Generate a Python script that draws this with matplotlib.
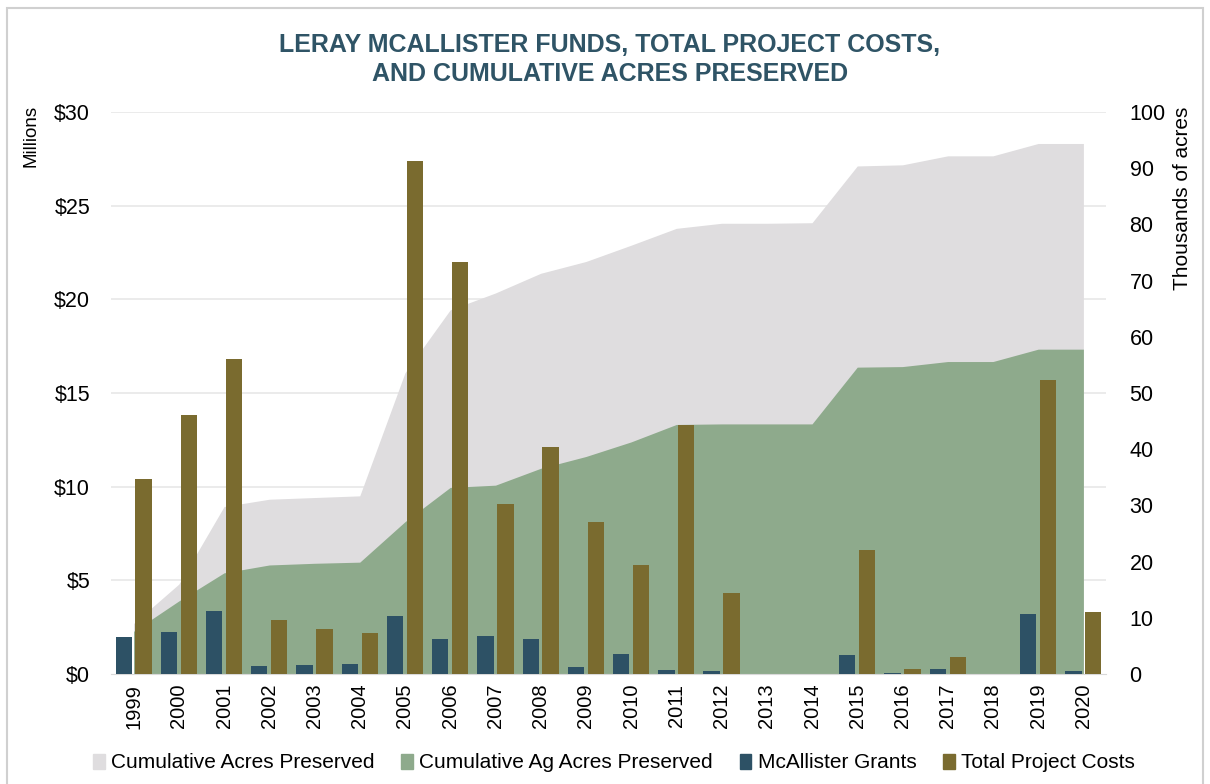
import numpy as np
import matplotlib.pyplot as plt
from matplotlib.patches import Patch, Rectangle

plt.rcParams['font.family'] = ['Liberation Sans', 'DejaVu Sans']

years = [str(y) for y in range(1999, 2021)]

# millions of dollars
grants = [1.99, 2.22, 3.36, 0.43, 0.46, 0.55, 3.11, 1.85, 2.05, 1.89, 0.36,
          1.05, 0.20, 0.18, 0.0, 0.0, 1.01, 0.03, 0.25, 0.0, 3.20, 0.18]
total_costs = [10.4, 13.8, 16.8, 2.9, 2.4, 2.2, 27.4, 22.0, 9.1, 12.1, 8.1,
               5.8, 13.3, 4.3, 0.0, 0.0, 6.6, 0.25, 0.9, 0.0, 15.7, 3.3]

# thousands of acres
cum_acres = [9.0, 16.0, 29.8, 31.1, 31.4, 31.7, 53.6, 64.8, 67.8, 71.3, 73.4,
             76.3, 79.3, 80.2, 80.2, 80.3, 90.4, 90.6, 92.2, 92.2, 94.4, 94.4]
cum_ag_acres = [7.6, 13.0, 18.0, 19.4, 19.7, 19.9, 27.1, 33.2, 33.6, 36.6, 38.7,
                41.3, 44.4, 44.5, 44.5, 44.5, 54.6, 54.7, 55.6, 55.6, 57.8, 57.8]

c_gray = '#dfdddf'
c_green = '#8eaa8c'
c_blue = '#2d5165'
c_gold = '#7a6b2f'
c_title = '#2f5466'

fig = plt.figure(figsize=(12.1, 7.84), dpi=100)
ax_ac = fig.add_axes([111 / 1210, 1 - 674 / 784, (1106 - 111) / 1210, (674 - 112) / 784])
ax_usd = ax_ac.twinx()

x = np.arange(len(years))

# grid lines belong to the dollar axis, but sit behind the areas
for v in [5, 10, 15, 20, 25, 30]:
    ax_ac.axhline(v * 100 / 30, color='#e8e8e8', lw=1.2, zorder=0)

ax_ac.fill_between(x, cum_acres, color=c_gray, lw=0, zorder=1)
ax_ac.fill_between(x, cum_ag_acres, color=c_green, lw=0, zorder=2)

w = 0.36
ax_usd.bar(x - 0.22, grants, width=w, color=c_blue, zorder=3)
ax_usd.bar(x + 0.22, total_costs, width=w, color=c_gold, zorder=3)

ax_ac.set_xlim(-0.5, len(years) - 0.5)
ax_ac.set_ylim(0, 100)
ax_usd.set_ylim(0, 30)

ax_ac.set_xticks(x)
ax_ac.set_xticklabels(years, rotation=90, fontsize=14.5)
ax_ac.tick_params(axis='x', length=0, pad=7)

ax_ac.yaxis.tick_right()
ax_ac.set_yticks(range(0, 101, 10))
ax_ac.tick_params(axis='y', length=0, pad=17, labelsize=15.5)

ax_usd.yaxis.tick_left()
ax_usd.set_yticks(range(0, 31, 5))
ax_usd.set_yticklabels(['$%d' % v for v in range(0, 31, 5)])
ax_usd.tick_params(axis='y', length=0, pad=15, labelsize=15.5)

for a in (ax_ac, ax_usd):
    for s in a.spines.values():
        s.set_visible(False)
ax_ac.spines['bottom'].set_visible(True)
ax_ac.spines['bottom'].set_color('#d9d9d9')

fig.text(31 / 1210, 1 - 136 / 784, 'Millions', rotation=90, ha='center', va='center', fontsize=13.5)
fig.text(1183 / 1210, 1 - 198 / 784, 'Thousands of acres', rotation=90, ha='center', va='center', fontsize=15)

fig.text(610 / 1210, 1 - 45 / 784, 'LERAY MCALLISTER FUNDS, TOTAL PROJECT COSTS,', ha='center', va='center',
         fontsize=18, fontweight='bold', color=c_title)
fig.text(610 / 1210, 1 - 74 / 784, 'AND CUMULATIVE ACRES PRESERVED', ha='center', va='center',
         fontsize=18, fontweight='bold', color=c_title)

handles = [Patch(color=c_gray), Patch(color=c_green), Patch(color=c_blue), Patch(color=c_gold)]
labels = ['Cumulative Acres Preserved', 'Cumulative Ag Acres Preserved', 'McAllister Grants', 'Total Project Costs']
fig.legend(handles, labels, loc='center', bbox_to_anchor=(614 / 1210, 1 - 763 / 784), ncol=4, frameon=False,
           fontsize=15, handlelength=0.55, handleheight=0.7, handletextpad=0.3, columnspacing=1.3)

fig.patches.append(Rectangle((7 / 1210, -0.01), 1196 / 1210, 1 - 8 / 784 + 0.01, transform=fig.transFigure,
                             fill=False, edgecolor='#d0d0d0', lw=1.5))

fig.savefig('out.png', dpi=100)
